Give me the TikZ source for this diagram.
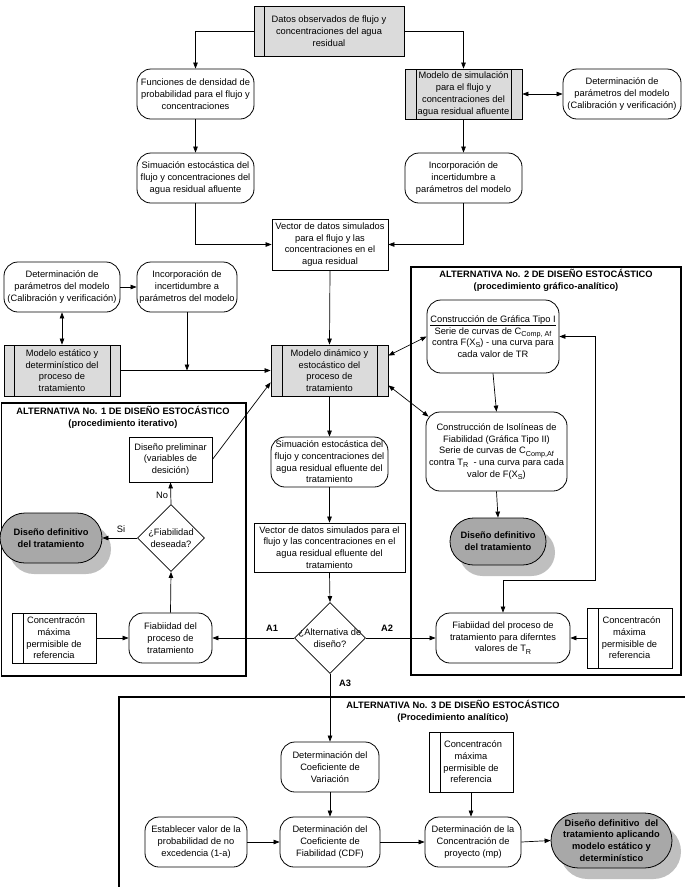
\documentclass[tikz,border=0pt]{standalone}
\usepackage{fontspec}
\setmainfont{Liberation Sans}
\usetikzlibrary{arrows.meta,shapes.geometric,shapes.misc,shadows,calc}
\newcommand{\fsz}{\fontsize{9.3}{11.7}\selectfont}
\newcommand{\subx}[1]{\raisebox{-0.45ex}{\fontsize{7.2}{7.2}\selectfont #1}}
\tikzset{
  >={Triangle[length=6pt,width=4.5pt]},
  base/.style={draw, line width=0.8pt, align=center, font=\fsz, inner sep=1pt},
  rbox/.style={base, rectangle, rounded corners=14pt, fill=white},
  pbox/.style={base, rectangle, fill=white},
  gbox/.style={base, rectangle, fill=gray!28},
  lbar/.style={path picture={\draw[line width=0.8pt] ([xshift=#1]path picture bounding box.north west) -- ([xshift=#1]path picture bounding box.south west);}},
  bbar/.style={path picture={\draw[line width=0.8pt] ([xshift=#1]path picture bounding box.north west) -- ([xshift=#1]path picture bounding box.south west);
     \draw[line width=0.8pt] ([xshift=-#1]path picture bounding box.north east) -- ([xshift=-#1]path picture bounding box.south east);}},
  term/.style={draw, line width=0.8pt, rounded rectangle, fill=gray!68, font=\fsz\bfseries, align=center, inner sep=1pt,
     drop shadow={shadow xshift=9pt, shadow yshift=-11pt, fill=gray!50, opacity=1}},
  diam/.style={draw, line width=0.8pt, diamond, fill=white, inner sep=0pt, minimum width=#1, minimum height=#1},
  txt/.style={align=center, font=\fsz, inner sep=0pt},
  ttl/.style={align=center, font=\fsz\bfseries, inner sep=0pt},
  frame/.style={line width=1.5pt},
  conn/.style={line width=0.7pt, ->},
}
\begin{document}
\begin{tikzpicture}[x=1pt,y=-1pt]
\useasboundingbox (0,0) rectangle (685,887);
% frames
\draw[frame] (1.5,403) rectangle (246,676);
\draw[frame] (411,267) rectangle (681,675);
\draw[frame] (685,697) -- (119,697) -- (119,887);
\node[ttl] (t1) at (123,417.5) {ALTERNATIVA No. 1 DE DISEÑO ESTOCÁSTICO\\(procedimiento iterativo)};
\node[ttl] (t2) at (546,280.5) {ALTERNATIVA No. 2 DE DISEÑO ESTOCÁSTICO\\(procedimiento gráfico-analítico)};
\node[ttl] (t3) at (453,711.5) {ALTERNATIVA No. 3 DE DISEÑO ESTOCÁSTICO\\(Procedimiento analítico)};
% top part
\node[gbox, lbar=10pt, minimum width=150pt, minimum height=50pt] (datos) at (329,31) {Datos observados de flujo y\\concentraciones del agua\\residual};
\node[rbox, minimum width=117pt, minimum height=50pt] (func) at (195.5,94) {Funciones de densidad de\\probabilidad para el flujo y\\concentraciones};
\node[gbox, bbar=11pt, minimum width=117pt, minimum height=50pt] (msim) at (463.5,94) {Modelo de simulación\\para el flujo y\\concentraciones del\\agua residual afluente};
\node[rbox, minimum width=118pt, minimum height=50pt] (detR) at (622,94) {Determinación de\\parámetros del modelo\\(Calibración y verificación)};
\node[rbox, minimum width=117pt, minimum height=50pt] (sima) at (195.5,178) {Simuación estocástica del\\flujo y concentraciones del\\agua residual afluente};
\node[rbox, minimum width=117pt, minimum height=50pt] (incR) at (463.5,178) {Incorporación de\\incertidumbre a\\parámetros del modelo};
\node[pbox, minimum width=116pt, minimum height=51pt] (vec) at (330,244.5) {Vector de datos simulados\\para el flujo y las\\concentraciones en el\\agua residual};
\node[rbox, minimum width=116pt, minimum height=50pt] (detL) at (62,287) {Determinación de\\parámetros del modelo\\(Calibración y verificación)};
\node[rbox, minimum width=100pt, minimum height=50pt] (incL) at (187,287) {Incorporación de\\incertidumbre a\\parámetros del modelo};
\node[gbox, bbar=10pt, minimum width=116pt, minimum height=51pt] (mest) at (62,370.5) {Modelo estático y\\determinístico del\\proceso de\\tratamiento};
\node[gbox, bbar=11pt, minimum width=117pt, minimum height=51pt] (mdin) at (329.5,370.5) {Modelo dinámico y\\estocástico del\\proceso de\\tratamiento};
% alternative 1
\node[pbox, minimum width=83pt, minimum height=45pt] (prelim) at (170.5,459.5) {Diseño preliminar\\(variables de\\desición)};
\node[diam=67pt] (dfiab) at (171,538) {};
\node[txt] (dfiabt) at (dfiab) {¿Fiabilidad\\deseada?};
\node[term, minimum width=104pt, minimum height=50pt] (defA1) at (51,538) {Diseño definitivo\\del tratamiento};
\node[rbox, minimum width=83pt, minimum height=50pt] (fiabA1) at (170.5,638) {Fiabiidad del\\proceso de\\tratamiento};
\node[pbox, lbar=11pt, minimum width=84pt, minimum height=50pt] (concA1) at (54,638) {\hspace*{4pt}Concentracón\\máxima\\permisible de\\referencia};
\node[txt] (No) at (162,495) {No};
\node[txt] (Si) at (121,529) {Si};
% center column
\node[rbox, minimum width=117pt, minimum height=50pt] (sime) at (329.5,462) {Simuación estocástica del\\flujo y concentraciones del\\agua residual efluente del\\tratamiento};
\node[pbox, minimum width=151pt, minimum height=49pt] (vece) at (329.5,547.5) {Vector de datos simulados para el\\flujo y las concentraciones en el\\agua residual efluente del\\tratamiento};
\node[diam=71pt] (alt) at (330,638) {};
\node[txt] (altt) at (alt) {¿Alternativa de\\diseño?};
\node[ttl] (A1) at (272,628) {A1};
\node[ttl] (A2) at (387,628) {A2};
\node[ttl] (A3) at (345,683) {A3};
% alternative 2
\node[rbox, minimum width=132pt, minimum height=73pt] (tipo1) at (493,336.5) {\underline{Construcción de Gráfica Tipo I}\\Serie de curvas de C\subx{Comp, Af}\\contra F(X\subx{S}) - una curva para\\cada valor de TR};
\node[rbox, minimum width=141pt, minimum height=79pt] (isol) at (496.5,451.5) {Construcción de Isolíneas de\\Fiabilidad (Gráfica Tipo II)\\Serie de curvas de C\subx{Comp,Af}\\contra T\subx{R}\ \ - una curva para cada\\valor de F(X\subx{S})};
\node[term, minimum width=98pt, minimum height=47pt] (defA2) at (498,541.5) {Diseño definitivo\\del tratamiento};
\node[rbox, minimum width=134pt, minimum height=50pt] (fiabA2) at (503,638) {Fiabiidad del proceso de\\tratamiento para diferntes\\valores de T\subx{R}};
\node[pbox, lbar=11pt, minimum width=85pt, minimum height=60pt] (concA2) at (629.5,638) {\hspace*{4pt}Concentracón\\máxima\\permisible de\\referencia};
% alternative 3
\node[rbox, minimum width=98pt, minimum height=50pt] (dcv) at (330,767) {Determinación del\\Coeficiente de\\Variación};
\node[pbox, lbar=11pt, minimum width=84pt, minimum height=60pt] (concA3) at (471,762) {\hspace*{4pt}Concentracón\\máxima\\permisible de\\referencia};
\node[rbox, minimum width=102pt, minimum height=50pt] (est) at (196,842) {Establecer valor de la\\probabilidad de no\\excedencia (1-a)};
\node[rbox, minimum width=100pt, minimum height=50pt] (dcf) at (330,842) {Determinación del\\Coeficiente de\\Fiabilidad (CDF)};
\node[rbox, minimum width=96pt, minimum height=50pt] (dcp) at (473,842) {Determinación de la\\Concentración de\\proyecto (mp)};
\node[term, minimum width=123pt, minimum height=55pt] (defA3) at (611.5,840.5) {Diseño definitivo\ \ del\\tratamiento aplicando\\modelo estático y\\determinístico};
% connectors
\draw[conn] (datos.west) -| (func.north);
\draw[conn] (datos.east) -| (msim.north);
\draw[conn,<->] (msim.east) -- (detR.west);
\draw[conn] (func.south) -- (sima.north);
\draw[conn] (msim.south) -- (incR.north);
\draw[conn] (sima.south) |- (vec.west);
\draw[conn] (incR.south) |- (vec.east);
\draw[conn] (detL.east) -- (incL.west);
\draw[conn,<->] (detL.south) -- (mest.north);
\draw[conn] (mest.east) -- (mdin.west);
\draw[conn] (incL.south) -- (incL.south |- mdin.west);
\draw[conn] (vec.south) -- (mdin.north);
\draw[conn] (prelim.east) -- ($(mdin.south west)+(0,-14)$);
\draw[conn] (mdin.south) -- (sime.north);
\draw[conn] (sime.south) -- (vece.north);
\draw[conn] (vece.south) -- (alt.north);
\draw[conn] (alt.west) -- (fiabA1.east);
\draw[conn] (alt.east) -- (fiabA2.west);
\draw[conn] (alt.south) -- (dcv.north);
\draw[conn] (concA1.east) -- (fiabA1.west);
\draw[conn] (fiabA1.north) -- (dfiab.south);
\draw[conn] (dfiab.west) -- (defA1.east);
\draw[conn] (dfiab.north) -- (prelim.south);
\draw[conn,<->] ($(mdin.north east)+(0,11)$) -- (tipo1.west);
\draw[conn,<->] ($(mdin.south east)+(0,-11)$) -- ($(isol.north west)+(3,5)$);
\draw[conn] (tipo1.south) -- (isol.north);
\draw[conn] (isol.south) -- (defA2.north);
\coordinate (lp) at (595,580);
\draw[conn,<->] (tipo1.east) -| (lp) -| (fiabA2.north);
\draw[conn] (concA2.west) -- (fiabA2.east);
\draw[conn] (dcv.south) -- (dcf.north);
\draw[conn] (est.east) -- (dcf.west);
\draw[conn] (dcf.east) -- (dcp.west);
\draw[conn] (concA3.south) -- (concA3.south |- dcp.north);
\draw[conn] (dcp.east) -- (defA3.west);
\end{tikzpicture}
\end{document}
